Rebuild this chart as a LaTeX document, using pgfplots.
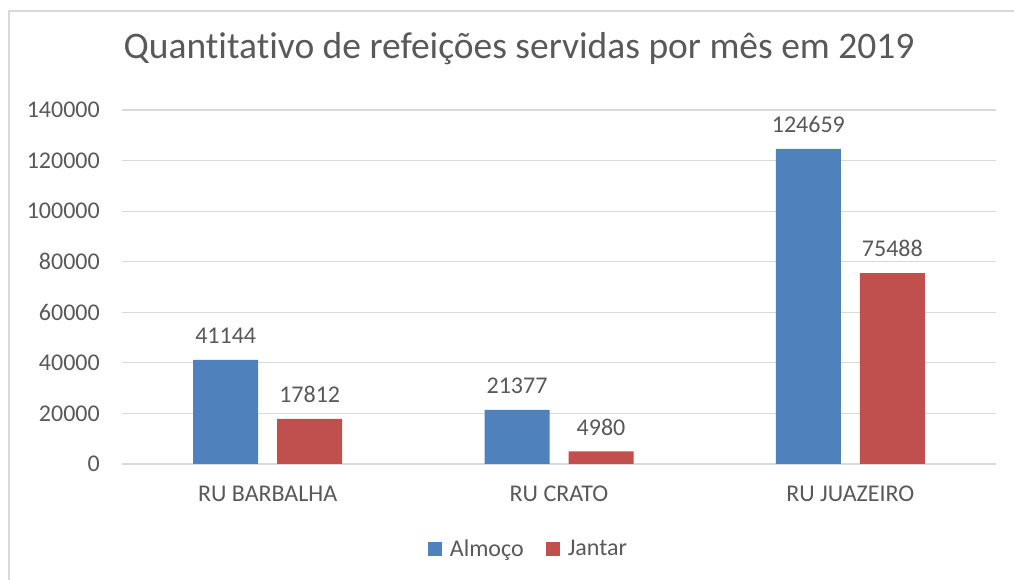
\documentclass[border=0pt]{standalone}
\usepackage{fontspec}
\setmainfont{Carlito}[Ligatures=NoCommon]
\usepackage{pgfplots}
\pgfplotsset{compat=1.18}

\definecolor{azul}{HTML}{4F81BD}
\definecolor{verm}{HTML}{C0504D}
\definecolor{texto}{HTML}{595959}
\definecolor{grade}{HTML}{D9D9D9}

\begin{document}
\begin{tikzpicture}[x=1pt,y=1pt]
	% recorte do tamanho da imagem (1 px = 1 pt), origem no canto do eixo
	\clip (-122,-116) rectangle (892,464);
	\fill[white] (-122,-116) rectangle (892,464);
	\draw[grade, line width=1.2pt] (-113,-140) rectangle (905,453);
	\begin{axis}[
		at={(0,0)}, anchor=south west,
		scale only axis,
		width=874pt, height=354pt,
		ybar=19pt,
		bar width=65pt,
		ymin=0, ymax=140000,
		ytick distance=20000,
		xmin=-0.5, xmax=2.5,
		xtick=data,
		xticklabels={RU BARBALHA, RU CRATO, RU JUAZEIRO},
		scaled y ticks=false,
		/pgf/number format/assume math mode=true,
		yticklabel={\pgfmathprintnumber[fixed,1000 sep={}]{\tick}},
		major tick length=0pt,
		ymajorgrids,
		grid style={grade, line width=1.2pt},
		axis y line*=left,
		y axis line style={draw=none},
		axis x line*=bottom,
		x axis line style={grade, line width=1.2pt, -},
		ticklabel style={font=\fontsize{24}{28}\selectfont, text=texto},
		yticklabel style={anchor=east, xshift=-22pt, inner sep=0pt},
		xticklabel style={anchor=north, yshift=-22pt, inner sep=0pt},
		nodes near coords,
		nodes near coords style={font=\fontsize{24}{28}\selectfont, text=texto, anchor=south, inner sep=0pt, yshift=16pt,
			/pgf/number format/.cd, fixed, 1000 sep={}},
		clip=false,
		title={Quantitativo de refeições servidas por mês em 2019},
		title style={font=\fontsize{37.5}{42}\selectfont, text=texto, at={(0.4543,1.155)}, anchor=center, inner sep=0pt},
		legend style={at={(0.465,-0.24)}, anchor=center, draw=none, fill=none,
			legend columns=-1, font=\fontsize{24}{28}\selectfont, text=texto,
			/tikz/every odd column/.append style={column sep=6pt},
			/tikz/every even column/.append style={column sep=20pt}},
		legend image code/.code={\fill[#1,draw=none] (0pt,-7pt) rectangle (14pt,7pt);},
	]
		\addplot[fill=azul, draw=none] coordinates {(0,41144) (1,21377) (2,124659)};
		\addplot[fill=verm, draw=none] coordinates {(0,17812) (1,4980) (2,75488)};
		\legend{Almoço, Jantar}
	\end{axis}
\end{tikzpicture}
\end{document}
